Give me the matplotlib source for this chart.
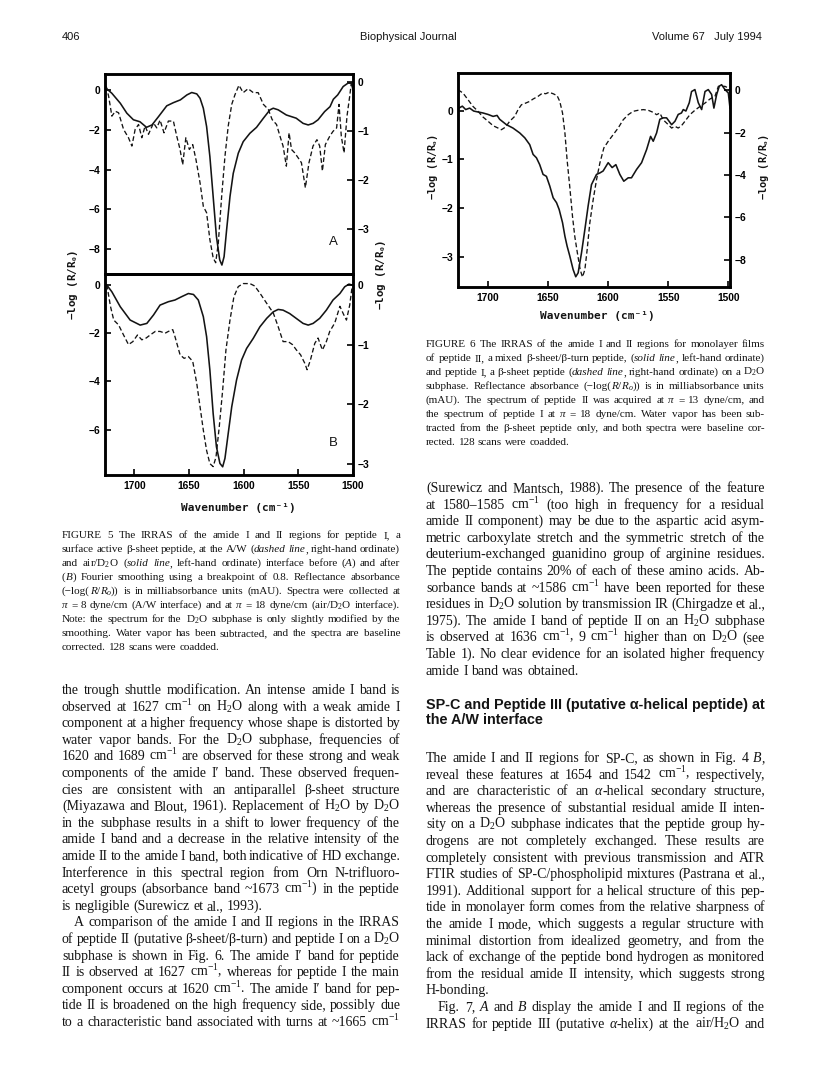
import statistics
import matplotlib
matplotlib.use("Agg")
import matplotlib.pyplot as plt

# ---------------------------------------------------------------
# page geometry (pixels, y measured from the top of the page)
# ---------------------------------------------------------------
W, H = 816, 1084
INK = "#141414"
SERIF = "Liberation Serif"
SANS = ["Liberation Sans", "DejaVu Sans"]
MONO = ["DejaVu Sans Mono"]

plt.rcParams["font.family"] = SANS
plt.rcParams["mathtext.fontset"] = "custom"
plt.rcParams["mathtext.rm"] = "Liberation Serif"
plt.rcParams["mathtext.it"] = "Liberation Serif:italic"
plt.rcParams["mathtext.bf"] = "Liberation Serif:bold"

# ---------------------------------------------------------------
# DATA  (wavenumber in cm-1, -log(R/Ro) in mAU)
# ---------------------------------------------------------------
# Fig. 5 A, air/D2O, solid, left ordinate
f5a_solid_wn = [1725.9, 1720.7, 1713, 1707, 1701, 1695, 1689, 1684, 1678, 1670.5,
                1664.4, 1658, 1652, 1647.6, 1643, 1640, 1637, 1634, 1631, 1628,
                1625, 1622, 1620, 1618, 1615.7, 1612.6, 1609.6, 1605, 1600.5, 1594.4,
                1588.3, 1582, 1576, 1573, 1568.5, 1561, 1552, 1545.7, 1541, 1536.5,
                1532, 1526, 1521, 1518, 1514, 1509, 1504.6, 1501.5, 1500]
f5a_solid = [0.08, -0.17, -0.67, -1.17, -1.5, -1.6, -1.88, -1.76, -1.34, -0.8,
             -0.64, -0.5, -0.25, -0.13, -0.2, -0.42, -0.92, -1.84, -3.35, -5.36,
             -7.37, -8.54, -8.8, -8.38, -7.04, -5.36, -4.19, -3.18, -2.6, -2.18,
             -1.88, -1.42, -1.0, -0.92, -1.0, -1.26, -1.42, -1.68, -1.76, -1.68,
             -1.5, -1.09, -0.84, -0.47, -0.25, 0.17, 0.34, 0.34, 0.0]

# Fig. 5 A, A/W, dashed, right ordinate
f5a_dash_wn = [1725.9, 1723.7, 1720.7, 1717.6, 1714.6, 1710, 1705.5, 1702.4, 1699.4, 1696.3,
               1693.3, 1690.3, 1687.2, 1682.6, 1679.6, 1676.6, 1673, 1669, 1664.4, 1661.3,
               1658.3, 1655.9, 1653, 1649.8, 1646.7, 1643.7, 1640, 1637, 1634, 1631,
               1628, 1625.7, 1623.3, 1620.2, 1617.2, 1614.2, 1611, 1608, 1604.4, 1600.5,
               1596, 1591.3, 1586.8, 1582, 1577.6, 1574, 1570, 1566.4, 1564, 1561,
               1558.5, 1556.3, 1553.3, 1550.2, 1547.2, 1543.6, 1540.3, 1536.6, 1533, 1530.5,
               1528, 1525.3, 1521.3, 1518.3, 1515, 1512.8, 1510.7, 1508.2, 1505.5, 1503,
               1501.5, 1500]
f5a_dash = [-0.09, -0.29, -0.7, -0.6, -0.63, -0.97, -1.14, -1.31, -0.97, -0.87,
            -1.14, -0.9, -1.07, -0.84, -0.94, -0.78, -1.04, -0.8, -0.8, -1.11,
            -1.38, -1.69, -1.14, -1.38, -1.28, -1.59, -2.06, -2.54, -2.67, -3.22,
            -3.59, -3.69, -3.29, -2.33, -1.52, -0.9, -0.46, -0.26, -0.07, -0.22,
            -0.14, -0.22, -0.22, -0.46, -0.56, -0.77, -0.87, -1.14, -1.31, -1.72,
            -1.04, -1.38, -1.45, -1.55, -1.65, -2.16, -1.65, -1.31, -1.18, -1.31,
            -1.82, -1.28, -1.11, -1.01, -0.94, -0.46, -1.11, -1.45, -0.7, -0.29,
            -0.02, -0.12]

# Fig. 5 B (after smoothing), solid, left ordinate
f5b_solid_wn = [1725.3, 1720.7, 1713, 1704, 1694.8, 1688.7, 1682.6, 1676.6, 1669, 1663,
                1656.8, 1650.7, 1646, 1641.6, 1637, 1634, 1631, 1628, 1625, 1621.8,
                1619.3, 1617.2, 1614.2, 1611, 1606.6, 1602, 1597.4, 1591.3, 1585.2, 1579,
                1573, 1568.5, 1564, 1558, 1552, 1545.7, 1541, 1536.5, 1530.5, 1524.4,
                1518.3, 1512, 1507.6, 1503.7, 1500.6]
f5b_solid = [0.0, -0.28, -0.9, -1.45, -1.66, -1.59, -1.24, -0.83, -0.69, -0.62,
             -0.48, -0.35, -0.39, -0.62, -1.31, -2.14, -3.53, -5.33, -6.71, -7.4,
             -7.54, -7.19, -6.15, -5.05, -3.94, -3.11, -2.63, -2.21, -1.73, -1.38,
             -1.11, -1.01, -1.04, -1.18, -1.38, -1.59, -1.66, -1.59, -1.38, -1.04,
             -0.62, -0.35, -0.07, 0.04, 0.0]

# Fig. 5 B, dashed, right ordinate
f5b_dash_wn = [1725.3, 1722, 1719, 1714.6, 1710, 1705.5, 1701.5, 1697.3, 1693.3, 1689.3,
               1685.7, 1681, 1676.6, 1672, 1669, 1665, 1662.9, 1658.3, 1654.6, 1650.7,
               1646.7, 1643, 1640, 1637, 1634, 1631, 1628, 1625.4, 1622.4, 1619.3,
               1616.3, 1612.6, 1609, 1605, 1600.5, 1594.4, 1590, 1585.2, 1579, 1573,
               1568.5, 1564, 1559.4, 1555.4, 1551.8, 1548, 1544.2, 1542, 1539, 1535,
               1532, 1528, 1524.4, 1521.3, 1516.7, 1512, 1508.5, 1506, 1503, 1500.6]
f5b_dash = [0.0, -0.36, -0.59, -0.67, -0.84, -1.0, -0.95, -0.84, -0.92, -0.89,
            -0.84, -0.78, -0.78, -0.81, -0.78, -0.75, -0.87, -1.17, -1.23, -1.2,
            -1.28, -1.65, -2.04, -2.43, -2.77, -2.99, -3.04, -2.88, -2.37, -1.76,
            -1.09, -0.59, -0.2, -0.03, 0.02, 0.02, -0.02, -0.14, -0.31, -0.47,
            -0.7, -0.95, -0.95, -1.0, -1.09, -1.17, -1.31, -1.42, -1.26, -0.98,
            -0.89, -1.09, -0.95, -0.78, -0.64, -0.36, -0.5, -0.59, -0.34, 0.0]

# Fig. 6, peptide II, solid, left ordinate
f6_solid_wn = [1724.2, 1721.4, 1718.6, 1715.3, 1712, 1708.3, 1704.2, 1700, 1695.8, 1692.5,
               1690.3, 1684.7, 1679.2, 1673.6, 1669.4, 1665.3, 1662.5, 1659.7, 1657, 1654.2,
               1651.4, 1648.6, 1645.8, 1643, 1640.8, 1638, 1636, 1634.2, 1632, 1629.2,
               1627, 1625, 1622.2, 1619.4, 1616.7, 1613.9, 1609.7, 1606.9, 1604.2, 1600,
               1596.7, 1593.6, 1590.3, 1587, 1583.3, 1580.6, 1576.4, 1572.2, 1568, 1564.7,
               1562.5, 1559.7, 1557, 1554.2, 1551.4, 1547.2, 1544.4, 1541.7, 1539, 1537.5,
               1535.3, 1532.5, 1530.6, 1527.8, 1525, 1522.2, 1519.4, 1516.7, 1513.9, 1512,
               1509.7, 1507.5, 1505.6, 1502.8, 1500, 1498.6]
f6_solid = [0.05, 0.09, 0.02, 0.05, -0.01, -0.03, -0.05, -0.08, -0.12, -0.1,
            -0.18, -0.29, -0.36, -0.46, -0.56, -0.7, -0.9, -0.97, -1.11, -1.31,
            -1.35, -1.55, -1.79, -1.89, -2.03, -2.3, -2.58, -2.78, -2.98, -3.26,
            -3.41, -3.33, -2.92, -2.44, -1.96, -1.52, -1.31, -1.28, -1.24, -1.07,
            -1.17, -1.11, -1.31, -1.45, -1.38, -1.38, -1.21, -1.07, -0.8, -0.53,
            -0.63, -0.46, -0.18, -0.15, -0.15, -0.29, -0.22, -0.08, -0.05, 0.02,
            -0.01, 0.16, 0.39, 0.43, 0.16, 0.02, 0.39, 0.43, 0.33, 0.05,
            0.33, 0.5, 0.53, 0.43, 0.36, 0.05]

# Fig. 6, peptide I, dashed, right ordinate
f6_dash_wn = [1725, 1720.8, 1716.7, 1712.5, 1708.3, 1704.2, 1700, 1695.8, 1691.7, 1688.9,
              1685.3, 1682, 1677.8, 1675, 1672.2, 1668.6, 1665.3, 1662.5, 1658.3, 1654.7,
              1652, 1649.2, 1645.8, 1642.5, 1640.3, 1638, 1636, 1634.2, 1632, 1629.7,
              1627.8, 1625.6, 1623.3, 1621.4, 1619.4, 1617.5, 1615.3, 1612.5, 1609.7, 1606.9,
              1603.6, 1600, 1595.8, 1591.7, 1587.5, 1583.3, 1579.2, 1575, 1570.8, 1566.7,
              1562.5, 1559.7, 1557, 1554.2, 1550, 1547.2, 1544.4, 1541.7, 1539, 1536.1,
              1532, 1527.8, 1523.6, 1519.4, 1515.3, 1511.1, 1508.3, 1505.6, 1502.8, 1500,
              1498.6]
f6_dash = [0.03, -0.13, -0.44, -0.76, -0.99, -1.26, -1.46, -1.67, -1.78, -1.86,
           -1.73, -1.46, -1.23, -0.91, -0.68, -0.6, -0.52, -0.41, -0.28, -0.13,
           -0.16, -0.09, -0.16, -0.25, -0.52, -1.07, -2.02, -3.28, -4.54, -5.95,
           -6.9, -7.69, -8.47, -8.82, -8.47, -7.53, -6.27, -5.17, -4.22, -3.43,
           -2.72, -2.41, -2.09, -1.78, -1.39, -1.15, -0.99, -0.94, -0.91, -0.94,
           -1.04, -1.15, -1.07, -1.39, -1.62, -1.78, -1.7, -1.78, -1.67, -1.46,
           -1.15, -0.94, -0.76, -0.6, -0.41, -0.28, 0.19, 0.19, 0.19, 0.11,
           -0.13]

wn_ticks = [1700, 1650, 1600, 1550, 1500]
f5a_left_ticks = [0, -2, -4, -6, -8]
f5a_right_ticks = [0, -1, -2, -3]
f5b_left_ticks = [0, -2, -4, -6]
f5b_right_ticks = [0, -1, -2, -3]
f6_left_ticks = [0, -1, -2, -3]
f6_right_ticks = [0, -2, -4, -6, -8]

# ---------------------------------------------------------------
# TEXT
# ---------------------------------------------------------------
header = ["406", "Biophysical Journal", "Volume 67   July 1994"]

cap5 = [
    "FIGURE 5   The IRRAS of the amide I and II regions for peptide I, a",
    "surface active β-sheet peptide, at the A/W (*dashed line*, right-hand ordinate)",
    "and air/D$_2$O (*solid line*, left-hand ordinate) interface before (*A*) and after",
    "(*B*) Fourier smoothing using a breakpoint of 0.8. Reflectance absorbance",
    "(−log(*R*/*R*$_o$)) is in milliabsorbance units (mAU). Spectra were collected at",
    "*π* = 8 dyne/cm (A/W interface) and at *π* = 18 dyne/cm (air/D$_2$O interface).",
    "Note: the spectrum for the D$_2$O subphase is only slightly modified by the",
    "smoothing. Water vapor has been subtracted, and the spectra are baseline",
    "corrected. 128 scans were coadded.",
]

cap6 = [
    "FIGURE 6   The IRRAS of the amide I and II regions for monolayer films",
    "of peptide II, a mixed β-sheet/β-turn peptide, (*solid line*, left-hand ordinate)",
    "and peptide I, a β-sheet peptide (*dashed line*, right-hand ordinate) on a D$_2$O",
    "subphase. Reflectance absorbance (−log(*R*/*R*$_o$)) is in milliabsorbance units",
    "(mAU). The spectrum of peptide II was acquired at *π* = 13 dyne/cm, and",
    "the spectrum of peptide I at *π* = 18 dyne/cm. Water vapor has been sub-",
    "tracted from the β-sheet peptide only, and both spectra were baseline cor-",
    "rected. 128 scans were coadded.",
]

# (text, justified, indented)
left_body = [
    ("the trough shuttle modification. An intense amide I band is", True, False),
    ("observed at 1627 cm$^{-1}$ on H$_2$O along with a weak amide I", True, False),
    ("component at a higher frequency whose shape is distorted by", True, False),
    ("water vapor bands. For the D$_2$O subphase, frequencies of", True, False),
    ("1620 and 1689 cm$^{-1}$ are observed for these strong and weak", True, False),
    ("components of the amide I′ band. These observed frequen-", True, False),
    ("cies are consistent with an antiparallel β-sheet structure", True, False),
    ("(Miyazawa and Blout, 1961). Replacement of H$_2$O by D$_2$O", True, False),
    ("in the subphase results in a shift to lower frequency of the", True, False),
    ("amide I band and a decrease in the relative intensity of the", True, False),
    ("amide II to the amide I band, both indicative of HD exchange.", True, False),
    ("Interference in this spectral region from Orn N-trifluoro-", True, False),
    ("acetyl groups (absorbance band ~1673 cm$^{-1}$) in the peptide", True, False),
    ("is negligible (Surewicz et al., 1993).", False, False),
    ("A comparison of the amide I and II regions in the IRRAS", True, True),
    ("of peptide II (putative β-sheet/β-turn) and peptide I on a D$_2$O", True, False),
    ("subphase is shown in Fig. 6. The amide I′ band for peptide", True, False),
    ("II is observed at 1627 cm$^{-1}$, whereas for peptide I the main", True, False),
    ("component occurs at 1620 cm$^{-1}$. The amide I′ band for pep-", True, False),
    ("tide II is broadened on the high frequency side, possibly due", True, False),
    ("to a characteristic band associated with turns at ~1665 cm$^{-1}$", True, False),
]

right_body_a = [
    ("(Surewicz and Mantsch, 1988). The presence of the feature", True, False),
    ("at 1580–1585 cm$^{-1}$ (too high in frequency for a residual", True, False),
    ("amide II component) may be due to the aspartic acid asym-", True, False),
    ("metric carboxylate stretch and the symmetric stretch of the", True, False),
    ("deuterium-exchanged guanidino group of arginine residues.", True, False),
    ("The peptide contains 20% of each of these amino acids. Ab-", True, False),
    ("sorbance bands at ~1586 cm$^{-1}$ have been reported for these", True, False),
    ("residues in D$_2$O solution by transmission IR (Chirgadze et al.,", True, False),
    ("1975). The amide I band of peptide II on an H$_2$O subphase", True, False),
    ("is observed at 1636 cm$^{-1}$, 9 cm$^{-1}$ higher than on D$_2$O (see", True, False),
    ("Table 1). No clear evidence for an isolated higher frequency", True, False),
    ("amide I band was obtained.", False, False),
]

heading = ["SP-C and Peptide III (putative α-helical peptide) at",
           "the A/W interface"]

right_body_b = [
    ("The amide I and II regions for SP-C, as shown in Fig. 4 *B*,", True, False),
    ("reveal these features at 1654 and 1542 cm$^{-1}$, respectively,", True, False),
    ("and are characteristic of an *α*-helical secondary structure,", True, False),
    ("whereas the presence of substantial residual amide II inten-", True, False),
    ("sity on a D$_2$O subphase indicates that the peptide group hy-", True, False),
    ("drogens are not completely exchanged. These results are", True, False),
    ("completely consistent with previous transmission and ATR", True, False),
    ("FTIR studies of SP-C/phospholipid mixtures (Pastrana et al.,", True, False),
    ("1991). Additional support for a helical structure of this pep-", True, False),
    ("tide in monolayer form comes from the relative sharpness of", True, False),
    ("the amide I mode, which suggests a regular structure with", True, False),
    ("minimal distortion from idealized geometry, and from the", True, False),
    ("lack of exchange of the peptide bond hydrogen as monitored", True, False),
    ("from the residual amide II intensity, which suggests strong", True, False),
    ("H-bonding.", False, False),
    ("Fig. 7, *A* and *B* display the amide I and II regions of the", True, True),
    ("IRRAS for peptide III (putative *α*-helix) at the air/H$_2$O and", True, False),
]

# ---------------------------------------------------------------
# FIGURE
# ---------------------------------------------------------------
fig = plt.figure(figsize=(W / 100, H / 100), dpi=100)
fig.patch.set_facecolor("white")
renderer = fig.canvas.get_renderer()


def add_ax(x0, y0, x1, y1):
    return fig.add_axes([x0 / W, 1 - y1 / H, (x1 - x0) / W, (y1 - y0) / H])


def put(x, y, s, **kw):
    kw.setdefault("color", INK)
    return fig.text(x / W, 1 - y / H, s, **kw)


def style_axes(ax, side, ticks, ylim, xlim=(1727, 1500), xlabels=False):
    for sp in ax.spines.values():
        sp.set_linewidth(1.8)
    ax.set_xlim(*xlim)
    ax.set_ylim(*ylim)
    ax.set_yticks(ticks)
    ax.set_yticklabels([f"{t}" if t == 0 else f"\u2212{abs(t)}" for t in ticks])
    ax.tick_params(axis="y", which="both", direction="in", length=4, width=1.2,
                   pad=3.5, labelsize=7.4, left=(side == "left"),
                   right=(side == "right"), labelleft=(side == "left"),
                   labelright=(side == "right"))
    ax.tick_params(axis="x", direction="in", length=4, width=1.2, pad=4.5,
                   labelsize=7.4, bottom=xlabels, labelbottom=xlabels, top=False)
    for lab in ax.get_yticklabels() + ax.get_xticklabels():
        lab.set_fontweight("bold")
        lab.set_family(SANS)
    ax.set_facecolor("none")


def solid(ax, x, y):
    ax.plot(x, y, color=INK, lw=1.15, solid_joinstyle="round")


def dashed(ax, x, y):
    ax.plot(x, y, color=INK, lw=0.95, dashes=(3.6, 2.0))


ylab = "\u2212log (R/R$_{\\mathbf{o}}$)"

# ---- Figure 5 -------------------------------------------------
axA = add_ax(105, 74, 353, 274)
axA.set_xticks(wn_ticks)
style_axes(axA, "left", f5a_left_ticks, (-9.25, 0.8))
solid(axA, f5a_solid_wn, f5a_solid)
axA2 = axA.twinx()
style_axes(axA2, "right", f5a_right_ticks, (-3.92, 0.16))
dashed(axA2, f5a_dash_wn, f5a_dash)
axA.text(0.92, 0.16, "A", transform=axA.transAxes, fontsize=9.5, family=SANS,
         ha="center", va="center", color=INK)

axB = add_ax(105, 274, 353, 475)
axB.set_xticks(wn_ticks)
style_axes(axB, "left", f5b_left_ticks, (-7.88, 0.46), xlabels=True)
solid(axB, f5b_solid_wn, f5b_solid)
axB2 = axB.twinx()
style_axes(axB2, "right", f5b_right_ticks, (-3.18, 0.18))
dashed(axB2, f5b_dash_wn, f5b_dash)
axB.text(0.92, 0.16, "B", transform=axB.transAxes, fontsize=9.5, family=SANS,
         ha="center", va="center", color=INK)

put(73, 285, ylab, rotation=90, ha="center", va="center", fontsize=7.8,
    family=MONO, fontweight="bold")
put(381, 275, ylab, rotation=90, ha="center", va="center", fontsize=7.8,
    family=MONO, fontweight="bold")
put(238, 508, "Wavenumber (cm\u207b\u00b9)", ha="center", va="center",
    fontsize=8.0, family=MONO, fontweight="bold")

# ---- Figure 6 -------------------------------------------------
ax6 = add_ax(458, 73, 730, 287)
ax6.set_xticks(wn_ticks)
style_axes(ax6, "left", f6_left_ticks, (-3.62, 0.77), xlim=(1725, 1498.6),
           xlabels=True)
solid(ax6, f6_solid_wn, f6_solid)
ax62 = ax6.twinx()
style_axes(ax62, "right", f6_right_ticks, (-9.29, 0.82), xlim=(1725, 1498.6))
dashed(ax62, f6_dash_wn, f6_dash)

put(433, 167, ylab, rotation=90, ha="center", va="center", fontsize=7.4,
    family=MONO, fontweight="bold")
put(764, 167, ylab, rotation=90, ha="center", va="center", fontsize=7.4,
    family=MONO, fontweight="bold")
put(597, 316, "Wavenumber (cm\u207b\u00b9)", ha="center", va="center",
    fontsize=8.0, family=MONO, fontweight="bold")

# ---------------------------------------------------------------
# page text, justified word by word
# ---------------------------------------------------------------
PX = 100 / 72     # pixels per point


def runs_of(word, italic):
    runs = []
    for i, part in enumerate(word.split("*")):
        if i > 0:
            italic = not italic
        if part:
            runs.append((part, italic))
    return runs, italic


def make_words(line, x0, yb, size, family):
    italic = False
    words = []
    for w in line.split():
        runs, italic = runs_of(w, italic)
        objs = []
        for txt, it in runs:
            t = put(x0, yb, txt, fontsize=size, family=family, va="baseline",
                    ha="left", style="italic" if it else "normal")
            objs.append((t, t.get_window_extent(renderer).width))
        words.append(objs)
    return words


def measure(line, size, family=SERIF):
    words = make_words(line, 0, 0, size, family)
    wsum = sum(w for objs in words for _, w in objs)
    for objs in words:
        for t, _ in objs:
            t.remove()
    return wsum, len(words)


def fit_size(lines, width, base=9.0):
    # median size at which a justified line would be set with normal spaces
    sizes = []
    for l in lines:
        wsum, n = measure(l, base)
        sizes.append(width / (wsum / base + 0.25 * (n - 1) * PX))
    return statistics.median(sizes)


def put_line(line, x0, x1, yb, size, justify=True, family=SERIF):
    wsum, n = measure(line, size, family)
    if justify and n > 1:
        # squeeze the type a little when the spaces would get too tight
        min_gap = 0.2 * size * PX
        if (x1 - x0 - wsum) / (n - 1) < min_gap:
            size = (x1 - x0) / (wsum / size + 0.2 * (n - 1) * PX)
    words = make_words(line, x0, yb, size, family)
    widths = [sum(w for _, w in objs) for objs in words]
    gap = 0.25 * size * PX
    if justify and len(words) > 1:
        gap = (x1 - x0 - sum(widths)) / (len(words) - 1)
    x = x0
    for objs, wd in zip(words, widths):
        xx = x
        for t, w in objs:
            t.set_x(xx / W)
            xx += w
        x += wd + gap


LEAD = 16.6
body_lines = [l for l, j, ind in left_body + right_body_a + right_body_b
              if j and not ind]
BODY = 0.97 * fit_size(body_lines, 338)
CAP = 0.97 * fit_size(cap5[:-1] + cap6[:-1], 338, base=7.5)

# header
put(62, 40, header[0], fontsize=8, family=SANS, va="baseline")
put(408, 40, header[1], fontsize=8, family=SANS, va="baseline", ha="center")
put(762, 40, header[2], fontsize=8, family=SANS, va="baseline", ha="right")

# captions
for i, line in enumerate(cap5):
    put_line(line, 62, 400, 538 + i * 14, CAP, justify=(i < len(cap5) - 1))
for i, line in enumerate(cap6):
    put_line(line, 426, 765, 347 + i * 14, CAP, justify=(i < len(cap6) - 1))

# left column
for i, (line, just, ind) in enumerate(left_body):
    put_line(line, 62 + (12 if ind else 0), 400, 694 + i * LEAD, BODY, justify=just)

# right column
for i, (line, just, ind) in enumerate(right_body_a):
    put_line(line, 426 + (12 if ind else 0), 765, 492 + i * LEAD, BODY, justify=just)

h0 = put(426, 709, heading[0], fontsize=10, family=SANS, fontweight="bold",
         va="baseline")
HEAD = 10 * 338 / h0.get_window_extent(renderer).width
h0.set_fontsize(HEAD)
put(426, 709 + 15.5, heading[1], fontsize=HEAD, family=SANS, fontweight="bold",
    va="baseline")

for i, (line, just, ind) in enumerate(right_body_b):
    put_line(line, 426 + (12 if ind else 0), 765, 762 + i * LEAD, BODY, justify=just)

fig.savefig("out.png", dpi=100, facecolor="white")
